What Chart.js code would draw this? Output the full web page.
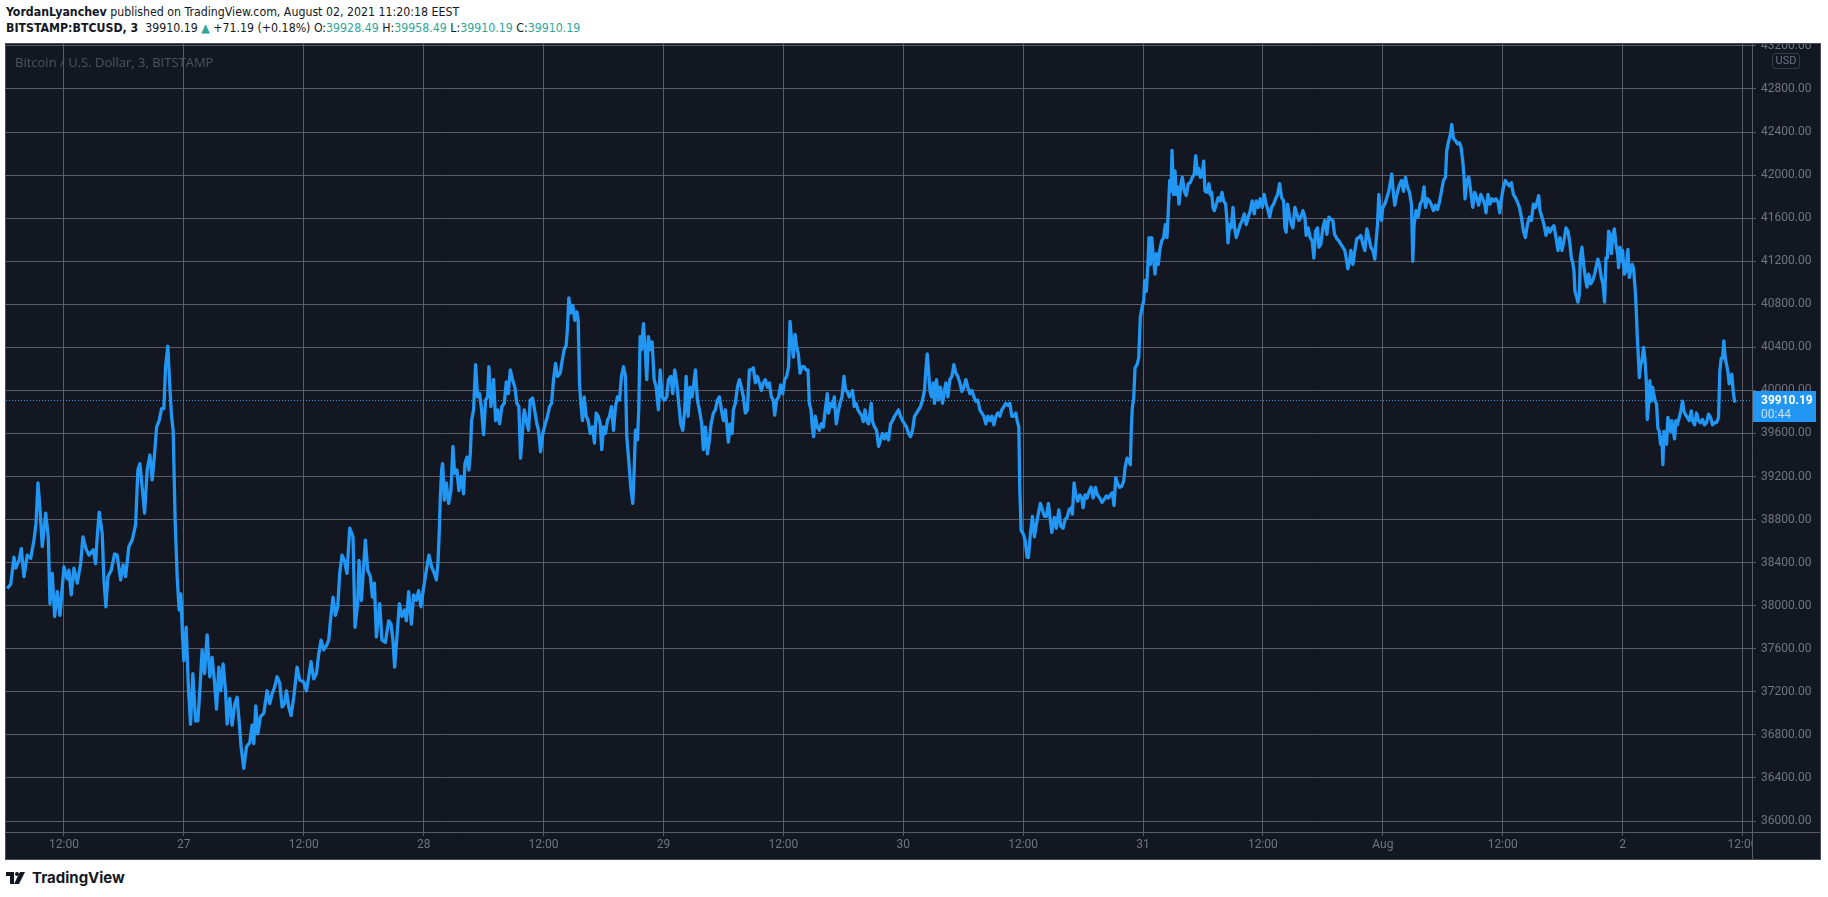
<!DOCTYPE html>
<html>
<head>
<meta charset="utf-8">
<script src="https://cdn.jsdelivr.net/npm/chart.js@4.4.0/dist/chart.umd.min.js"></script>
<style>
  html, body { margin: 0; padding: 0; background: #fff; }
  body { width: 1828px; height: 897px; position: relative; overflow: hidden; color: #131722;
         font-family: "Liberation Sans Narrow", "DejaVu Sans Condensed", Roboto, sans-serif; }
  .hdr { position: absolute; left: 6px; font-size: 12.25px; line-height: 16px; white-space: nowrap; }
  #l1 { top: 4px; }
  #l2 { top: 20px; }
  .up { color: #2fa59a; }
  #panel { position: absolute; left: 5px; top: 43px; width: 1814px; height: 815px;
           border: 1px solid #4b4e58; background: #131722; }
  #panel canvas { display: block; }
  #legend { position: absolute; left: 15px; top: 53px; font: 13px "Open Sans", sans-serif;
            color: #4f535f; white-space: nowrap; pointer-events: none; }
  #usd { position: absolute; left: 1772px; top: 53px; width: 26px; height: 14px; border: 1px solid #363a45;
         border-radius: 3px; font: 11px Roboto, sans-serif; line-height: 14px; text-align: center; color: #6f7380; }
  #logo { position: absolute; left: 6px; top: 868px; display: flex; align-items: center; gap: 6px;
          font: bold 15px Inter, Roboto, sans-serif; color: #131722; }
</style>
</head>
<body>
<div class="hdr" id="l1"><b>YordanLyanchev</b> published on TradingView.com, August 02, 2021 11:20:18 EEST</div>
<div class="hdr" id="l2"><b>BITSTAMP:BTCUSD, 3</b>&nbsp; 39910.19 <span class="up">&#9650;</span> +71.19 (+0.18%) O:<span class="up">39928.49</span> H:<span class="up">39958.49</span> L:<span class="up">39910.19</span> C:<span class="up">39910.19</span></div>

<div id="panel"><canvas id="chart" width="1814" height="815" style="width:1814px;height:815px"></canvas></div>
<div id="legend">Bitcoin / U.S. Dollar, 3, BITSTAMP</div>
<div id="usd">USD</div>
<div id="logo">
  <svg width="20" height="12" viewBox="0 0 20 12"><rect x="0" y="0" width="8" height="4" fill="#131722"/><rect x="4" y="0" width="4" height="12" fill="#131722"/><circle cx="11" cy="2" r="2" fill="#131722"/><polygon points="14,0 19,0 13,12 8,12" fill="#131722"/></svg>
  <span>TradingView</span>
</div>

<script>
// hours counted from 26 Jul 2021 00:00, prices in USD (BTCUSD, Bitstamp, 3 min)
const hours = [
  6.33, 6.67, 7.0, 7.17, 7.5, 7.73, 8.0, 8.33, 8.67, 9.0,
  9.2, 9.4, 9.6, 9.83, 10.17, 10.43, 10.6, 10.83, 11.07, 11.33,
  11.6, 11.83, 12.0, 12.33, 12.5, 12.73, 13.0, 13.33, 13.67, 13.9,
  14.2, 14.5, 14.93, 15.17, 15.33, 15.53, 15.83, 16.0, 16.2, 16.4,
  16.73, 17.07, 17.33, 17.67, 17.93, 18.17, 18.5, 18.83, 19.17, 19.4,
  19.6, 19.83, 20.07, 20.33, 20.6, 20.83, 21.07, 21.27, 21.53, 21.77,
  22.0, 22.17, 22.4, 22.6, 22.77, 22.93, 23.13, 23.33, 23.53, 23.7,
  23.87, 24.0, 24.23, 24.47, 24.67, 24.9, 25.17, 25.4, 25.6, 25.83,
  26.07, 26.33, 26.6, 26.83, 27.07, 27.27, 27.5, 27.7, 27.93, 28.17,
  28.33, 28.6, 28.83, 29.1, 29.33, 29.53, 29.73, 30.0, 30.27, 30.6,
  30.83, 31.0, 31.2, 31.4, 31.67, 32.0, 32.33, 32.6, 32.83, 33.07,
  33.33, 33.6, 33.83, 34.07, 34.27, 34.5, 34.73, 35.0, 35.33, 35.6,
  36.0, 36.27, 36.5, 36.73, 37.0, 37.27, 37.5, 37.73, 38.0, 38.27,
  38.5, 38.67, 38.93, 39.17, 39.4, 39.6, 39.83, 40.07, 40.33, 40.6,
  40.93, 41.13, 41.4, 41.53, 41.77, 42.17, 42.4, 42.67, 42.87, 43.07,
  43.27, 43.6, 43.83, 44.17, 44.5, 44.73, 44.93, 45.1, 45.33, 45.57,
  45.83, 46.1, 46.27, 46.5, 46.77, 47.0, 47.27, 47.5, 47.73, 48.0,
  48.27, 48.53, 48.8, 49.07, 49.27, 49.43, 49.57, 49.67, 49.8, 49.9,
  50.07, 50.27, 50.5, 50.73, 50.93, 51.1, 51.33, 51.53, 51.77, 52.0,
  52.13, 52.33, 52.53, 52.67, 52.8, 53.0, 53.2, 53.4, 53.6, 53.8,
  54.0, 54.2, 54.4, 54.53, 54.73, 55.0, 55.2, 55.4, 55.6, 55.83,
  56.07, 56.27, 56.47, 56.67, 56.9, 57.13, 57.33, 57.53, 57.7, 57.9,
  58.07, 58.27, 58.5, 58.67, 58.9, 59.1, 59.33, 59.5, 59.7, 59.93,
  60.17, 60.4, 60.6, 60.8, 61.0, 61.2, 61.4, 61.67, 61.87, 62.07,
  62.27, 62.4, 62.53, 62.73, 62.93, 63.13, 63.33, 63.47, 63.6, 63.73,
  63.9, 64.07, 64.27, 64.47, 64.67, 64.9, 65.1, 65.27, 65.47, 65.67,
  65.83, 66.0, 66.2, 66.4, 66.6, 66.8, 67.0, 67.2, 67.4, 67.6,
  67.8, 68.0, 68.2, 68.33, 68.53, 68.73, 68.93, 69.07, 69.2, 69.4,
  69.53, 69.67, 69.8, 70.0, 70.17, 70.33, 70.5, 70.67, 70.87, 71.07,
  71.27, 71.5, 71.67, 71.87, 72.07, 72.33, 72.5, 72.73, 72.93, 73.13,
  73.33, 73.53, 73.73, 73.93, 74.13, 74.27, 74.47, 74.67, 74.87, 75.0,
  75.2, 75.4, 75.6,
  75.83, 76.0, 76.2, 76.4, 76.6, 76.77, 77.0, 77.2, 77.4, 77.6,
  77.8, 78.0, 78.2, 78.33, 78.5, 78.67, 78.87, 79.0, 79.2, 79.4,
  79.6, 79.8, 80.0, 80.2, 80.4, 80.6, 80.8, 81.0, 81.2, 81.4,
  81.6, 81.8, 82.0, 82.2, 82.4, 82.6, 82.8, 83.0, 83.13, 83.33,
  83.53, 83.73, 83.93, 84.13, 84.33, 84.53, 84.67, 84.83, 85.0, 85.17,
  85.33, 85.5, 85.67, 85.87, 86.07, 86.27, 86.47, 86.6, 86.77, 86.9,
  87.03, 87.2, 87.4, 87.6, 87.8, 88.0, 88.2, 88.4, 88.53, 88.73,
  88.93, 89.1, 89.3, 89.47, 89.67, 89.87, 90.07, 90.23, 90.4, 90.6,
  90.8, 90.93, 91.1, 91.27, 91.47, 91.67, 91.87, 92.0, 92.17, 92.33,
  92.53, 92.67, 92.8, 92.93, 93.13, 93.33, 93.53, 93.73, 93.93, 94.13,
  94.33, 94.53, 94.73, 94.93, 95.13, 95.33, 95.53, 95.73, 95.93, 96.13,
  96.33, 96.53, 96.73, 96.93, 97.13, 97.33, 97.53, 97.73, 97.93, 98.13,
  98.27, 98.4, 98.53, 98.67, 98.83, 99.0, 99.13, 99.33, 99.53, 99.73,
  99.93, 100.13, 100.27, 100.47, 100.67, 100.87, 101.07, 101.27, 101.47, 101.67,
  101.87, 102.07, 102.27, 102.47, 102.67, 102.87, 103.07, 103.27, 103.47, 103.67,
  103.87, 104.07, 104.27, 104.47, 104.67, 104.87, 105.07, 105.27, 105.47, 105.67,
  105.87, 106.07, 106.27, 106.47, 106.67, 106.87, 107.07, 107.27, 107.4, 107.57,
  107.67, 107.8, 108.0, 108.2, 108.4, 108.53, 108.73, 108.93, 109.13, 109.33,
  109.53, 109.73, 109.93, 110.13, 110.33, 110.53,
  110.87, 111.13, 111.33, 111.57, 111.77, 112.0, 112.2, 112.4, 112.6, 112.8,
  112.93, 113.1, 113.27, 113.47, 113.67, 113.87, 114.0, 114.2, 114.4, 114.6,
  114.8, 115.0, 115.23, 115.43, 115.67, 115.9, 116.13, 116.33, 116.53, 116.73,
  116.93, 117.1, 117.27, 117.47, 117.67, 117.87, 118.07, 118.2, 118.4, 118.6,
  118.73, 118.83, 118.93, 119.07, 119.2, 119.4, 119.57, 119.73, 119.9, 120.07,
  120.17, 120.33, 120.47, 120.6, 120.73, 120.87, 121.0, 121.2, 121.33, 121.53,
  121.67, 121.87, 122.07, 122.23, 122.4, 122.53, 122.67, 122.8, 122.9, 123.07,
  123.2, 123.33, 123.47, 123.6, 123.8, 123.93, 124.13, 124.33, 124.53, 124.73,
  124.93, 125.13, 125.27, 125.47, 125.6, 125.73, 125.9, 126.07, 126.2, 126.4,
  126.6, 126.73, 126.87, 127.0, 127.13, 127.33, 127.53, 127.73, 127.9, 128.07,
  128.27, 128.4, 128.5, 128.67, 128.83, 129.0, 129.17, 129.33, 129.53, 129.73,
  129.93, 130.13, 130.33, 130.53, 130.73, 130.93, 131.13, 131.33, 131.53, 131.73,
  131.93, 132.13, 132.33, 132.53, 132.67, 132.87, 133.07, 133.27, 133.47, 133.67,
  133.87, 134.07, 134.2, 134.33, 134.47, 134.67, 134.87, 135.0, 135.2, 135.4,
  135.6, 135.8, 136.0, 136.2, 136.33, 136.53, 136.73, 136.93, 137.1, 137.27,
  137.47, 137.6, 137.8, 138.0, 138.2, 138.4, 138.6, 138.8, 139.0, 139.17,
  139.4, 139.6, 139.8, 140.0, 140.2, 140.33, 140.5, 140.67, 140.8, 141.0,
  141.2, 141.4, 141.6, 141.8, 142.0, 142.2, 142.4, 142.6, 142.8, 143.0,
  143.2, 143.33, 143.47, 143.6, 143.73, 143.87, 144.0, 144.2, 144.4, 144.6,
  144.73, 144.9, 145.07, 145.2, 145.4, 145.6,
  145.87, 146.07, 146.27, 146.47, 146.67, 146.87, 147.0, 147.13, 147.33, 147.53,
  147.73, 147.93, 148.13, 148.27, 148.47, 148.67, 148.87, 149.07, 149.27, 149.47,
  149.67, 149.87, 150.07, 150.27, 150.4, 150.6, 150.77, 150.9, 151.07, 151.27,
  151.47, 151.67, 151.83, 152.0, 152.13, 152.23, 152.4, 152.6, 152.8, 153.0,
  153.2, 153.4, 153.6, 153.8, 154.0, 154.2, 154.33, 154.53, 154.73, 154.93,
  155.13, 155.33, 155.53, 155.7, 155.87, 156.07, 156.27, 156.47, 156.67, 156.87,
  157.07, 157.27, 157.47, 157.67, 157.87, 158.07, 158.27, 158.47, 158.67, 158.87,
  159.07, 159.27, 159.47, 159.6, 159.73, 159.93, 160.13, 160.33, 160.53, 160.73,
  160.93, 161.13, 161.33, 161.53, 161.73, 161.93, 162.13, 162.33, 162.53, 162.73,
  162.87, 163.0, 163.13, 163.23, 163.37, 163.53, 163.67, 163.77, 163.93, 164.1,
  164.27, 164.43, 164.6, 164.8, 165.0, 165.2, 165.33, 165.53, 165.67, 165.87,
  166.03, 166.2, 166.33, 166.47, 166.6, 166.73, 166.87, 167.0, 167.17, 167.33,
  167.5, 167.6, 167.73, 167.87, 168.0, 168.17, 168.33, 168.53, 168.67, 168.8,
  168.97, 169.1, 169.27, 169.37, 169.47, 169.6, 169.67, 169.8, 169.93, 170.1,
  170.23, 170.37, 170.47, 170.6, 170.73, 170.87, 171.0, 171.13, 171.27, 171.4,
  171.53, 171.67, 171.8, 171.93, 172.03, 172.13, 172.27, 172.4, 172.53, 172.67,
  172.8, 172.93, 173.07, 173.2, 173.33, 173.47, 173.67, 173.83, 174.0, 174.13,
  174.27, 174.47, 174.67, 174.87, 175.0, 175.2, 175.4, 175.6, 175.8, 176.0,
  176.2, 176.4, 176.6, 176.8, 177.0, 177.2, 177.4, 177.6, 177.73, 177.87,
  178.0, 178.13, 178.27, 178.4, 178.53, 178.67, 178.8, 178.93, 179.07, 179.2,
  179.33
];
const prices = [
  38160, 38200, 38450, 38350, 38420, 38530, 38270, 38470, 38440, 38610,
  38760, 39140, 38900, 38550, 38860, 38640, 38020, 38300, 37900, 38130,
  37910, 38170, 38360, 38250, 38330, 38100, 38350, 38210, 38390, 38640,
  38530, 38470, 38520, 38390, 38640, 38870, 38670, 38240, 37990, 38270,
  38330, 38480, 38470, 38240, 38380, 38270, 38550, 38610, 38750, 39260,
  39320, 39100, 38860, 39260, 39400, 39170, 39410, 39660, 39720, 39830,
  39830, 40220, 40410, 40030, 39760, 39630, 38790, 38270, 37960, 38110,
  37710, 37490, 37800, 37210, 36900, 37370, 36930, 36930, 37210, 37590,
  37370, 37730, 37340, 37520, 37290, 37040, 37430, 37210, 37460, 37210,
  36900, 37140, 36890, 37090, 37150, 36930, 36690, 36490, 36690, 36730,
  36890, 36720, 37070, 36810, 36970, 37000, 37210, 37090, 37180, 37240,
  37340, 37280, 37060, 37090, 37210, 37060, 36980, 37150, 37430, 37310,
  37290, 37210, 37340, 37480, 37320, 37370, 37550, 37680, 37590, 37630,
  37680, 37860, 38080, 37910, 37990, 38300, 38470, 38420, 38300, 38720,
  38640, 37800, 38020, 38420, 38050, 38610, 38330, 38270, 38080, 38210,
  37710, 38020, 37680, 37660, 37860, 37830, 37680, 37430, 37710, 38020,
  37900, 37960, 37860, 38130, 37830, 38100, 38050, 38140, 37990, 38170,
  38330, 38470, 38360, 38300, 38240, 38390, 38700, 39010, 39260, 39320,
  38980, 39140, 38950, 39070, 39480, 39230, 39260, 39070, 39200, 39040,
  39320, 39380, 39260, 39410, 39720, 39820, 40240, 39940, 39970, 39820,
  39590, 39910, 39940, 40220, 39850, 40100, 39720, 39820, 39690, 39850,
  39880, 40080, 39970, 40190, 40100, 40030, 39880, 39850, 39370, 39630,
  39820, 39720, 39630, 39910, 39930, 39820, 39690, 39630, 39430, 39600,
  39690, 39760, 39850, 39880, 40100, 40250, 40130, 40160, 40280, 40380,
  40420, 40590, 40860, 40720, 40790, 40650, 40730, 40650, 40070, 39880,
  39720, 39940, 39760, 39720, 39600, 39660, 39510, 39790, 39760, 39690,
  39450, 39660, 39600, 39720, 39760, 39850, 39630, 39850, 39940, 39910,
  40130, 40220, 40130, 39570, 39350, 39100, 38950, 39260, 39630, 39540,
  39820, 40500, 40380, 40620, 40380, 40100, 40500, 40380, 40450, 40100,
  40030, 39820, 40190, 39940, 39910, 39940, 40100, 40130, 39970, 40190,
  40070, 39880, 39690, 39630, 39820, 40130, 39760, 40030, 39940, 40030,
  40190, 39910, 39820,
  39690, 39450, 39660, 39410, 39540, 39690, 39790, 39820, 39910, 39940,
  39820, 39720, 39820, 39690, 39520, 39690, 39600, 39820, 39880, 40030,
  40100, 40030, 39940, 39790, 39820, 40190, 40190, 40210, 40070, 40130,
  40070, 40000, 40070, 40100, 40030, 40070, 39940, 39910, 39770, 39910,
  39940, 40050, 39970, 40100, 40130, 40220, 40640, 40470, 40310, 40520,
  40410, 40340, 40160, 40220, 40220, 40190, 40190, 39880, 39820, 39660,
  39570, 39760, 39660, 39630, 39690, 39660, 39820, 39970, 39790, 39880,
  39850, 39940, 39690, 39790, 39880, 39940, 40130, 40000, 39990, 39940,
  39970, 40000, 39850, 39880, 39820, 39790, 39760, 39710, 39820, 39720,
  39690, 39790, 39880, 39710, 39660, 39630, 39480, 39540, 39600, 39550,
  39600, 39540, 39690, 39720, 39760, 39790, 39820, 39760, 39720, 39690,
  39660, 39600, 39570, 39630, 39760, 39790, 39820, 39850, 39910, 40000,
  40190, 40340, 40190, 40000, 39940, 40070, 39880, 40100, 39910, 40030,
  39880, 40000, 40070, 39940, 40100, 40130, 40240, 40160, 40130, 40070,
  39990, 40030, 40100, 40030, 39970, 40000, 39940, 39900, 39910, 39820,
  39790, 39760, 39690, 39760, 39720, 39760, 39680, 39760, 39790, 39760,
  39820, 39850, 39880, 39860, 39880, 39760, 39760, 39790, 39720, 39660,
  39070, 38700, 38670, 38610, 38450, 38450, 38670, 38830, 38640, 38760,
  38860, 38950, 38890, 38830, 38830, 38950,
  38680, 38820, 38720, 38890, 38740, 38720, 38800, 38820, 38890, 38910,
  38850, 39140, 39030, 38970, 39030, 39000, 38910, 39030, 39000, 39060,
  39100, 39000, 39100, 39030, 39000, 38960, 38990, 39020, 39000, 39030,
  39050, 38930, 39190, 39130, 39100, 39110, 39160, 39280, 39370, 39340,
  39310, 39650, 39840, 39930, 40210, 40240, 40300, 40680, 40770, 40830,
  41020, 40920, 41140, 41420, 41170, 41420, 41270, 41080, 41270, 41170,
  41300, 41390, 41420, 41540, 41420, 41670, 41950, 41850, 42230, 41820,
  42040, 41820, 41890, 41730, 41920, 41980, 41850, 41810, 41920, 41930,
  41980, 42010, 42180, 42010, 42060, 41980, 41990, 42130, 41850, 41840,
  41920, 41820, 41840, 41700, 41670, 41730, 41790, 41760, 41840, 41760,
  41730, 41580, 41370, 41540, 41510, 41700, 41510, 41420, 41480, 41540,
  41580, 41640, 41540, 41610, 41670, 41760, 41640, 41760, 41700, 41780,
  41700, 41820, 41730, 41670, 41610, 41700, 41730, 41780, 41820, 41920,
  41790, 41760, 41510, 41470, 41730, 41610, 41540, 41510, 41700, 41640,
  41580, 41610, 41670, 41610, 41440, 41510, 41420, 41390, 41230, 41480,
  41510, 41330, 41360, 41510, 41580, 41450, 41610, 41590, 41580, 41450,
  41410, 41390, 41360, 41330, 41300, 41230, 41130, 41200, 41300, 41170,
  41300, 41410, 41420, 41440, 41360, 41300, 41500, 41420, 41330, 41300,
  41220, 41390, 41540, 41820, 41670, 41580, 41700, 41730, 41790, 41850,
  41920, 42010, 41820, 41720, 41820, 41890,
  41950, 41850, 41980, 41890, 41840, 41730, 41200, 41540, 41670, 41610,
  41730, 41760, 41890, 41700, 41780, 41760, 41720, 41670, 41720, 41680,
  41750, 41850, 41950, 41980, 42230, 42320, 42380, 42470, 42340, 42320,
  42290, 42300, 42260, 42130, 41980, 41780, 41950, 41980, 41850, 41700,
  41840, 41790, 41720, 41820, 41780, 41730, 41650, 41820, 41730, 41780,
  41760, 41780, 41750, 41650, 41780, 41890, 41950, 41920, 41900, 41930,
  41820, 41790, 41750, 41700, 41610, 41480, 41420, 41540, 41610, 41580,
  41730, 41700, 41760, 41810, 41670, 41610, 41540, 41440, 41510, 41470,
  41510, 41530, 41420, 41300, 41420, 41300, 41390, 41510, 41480, 41360,
  41230, 41190, 41110, 40920, 40880, 40820, 40890, 41230, 41330, 41170,
  41050, 40960, 41080, 40990, 41020, 41080, 41140, 41220, 41170, 41050,
  40990, 40820, 41230, 41230, 41480, 41450, 41270, 41420, 41500, 41360,
  41270, 41140, 41330, 41200, 41300, 41080, 41110, 41310, 41050, 41110,
  41170, 41130, 40920, 40740, 40490, 40270, 40120, 40240, 40270, 40400,
  40300, 40090, 39730, 39870, 40090, 39900, 40030, 39960, 39900, 39870,
  39650, 39620, 39500, 39560, 39310, 39620, 39530, 39500, 39750, 39680,
  39620, 39720, 39620, 39550, 39720, 39680, 39750, 39810, 39900, 39810,
  39780, 39750, 39720, 39810, 39720, 39680, 39790, 39720, 39700, 39730,
  39680, 39700, 39780, 39750, 39680, 39700, 39700, 39750, 40180, 40300,
  40300, 40460, 40300, 40240, 40180, 40060, 40120, 40150, 39990, 39900,
  39910.19
];

// axis ticks
const tickHours = [12, 24, 36, 48, 60, 72, 84, 96, 108, 120, 132, 144, 156, 168, 180];
const tickLabels = ['12:00', '27', '12:00', '28', '12:00', '29', '12:00', '30', '12:00', '31', '12:00', 'Aug', '12:00', '2', '12:00'];
const priceTicks = [36000, 36400, 36800, 37200, 37600, 38000, 38400, 38800, 39200, 39600,
                    40000, 40400, 40800, 41200, 41600, 42000, 42400, 42800, 43200];

const bg = '#131722';
const gridColor = '#5a5d68';
const axisText = '#70747f';
const lineBlue = '#2196f3';

const tvPanel = {
  id: 'tvPanel',
  beforeDraw(chart) {
    const ctx = chart.ctx;
    ctx.save();
    ctx.fillStyle = bg;
    ctx.fillRect(0, 0, chart.width, chart.height);
    ctx.restore();
  },
  beforeDatasetsDraw(chart) {
    // dotted last price line
    const {ctx, chartArea: a, scales: {y}} = chart;
    const py = Math.round(y.getPixelForValue(prices[prices.length - 1])) + 0.5;
    ctx.save();
    ctx.strokeStyle = lineBlue;
    ctx.lineWidth = 1;
    ctx.setLineDash([1, 2]);
    ctx.beginPath();
    ctx.moveTo(a.left, py);
    ctx.lineTo(a.right, py);
    ctx.stroke();
    ctx.restore();
  },
  afterDraw(chart) {
    const {ctx, chartArea: a, scales: {y}} = chart;
    ctx.save();
    // clip time labels under the price scale
    ctx.fillStyle = bg;
    ctx.fillRect(a.right, a.bottom, chart.width - a.right, chart.height - a.bottom);
    // scale separators
    ctx.strokeStyle = gridColor;
    ctx.lineWidth = 1;
    ctx.beginPath();
    ctx.moveTo(a.right + 0.5, 0);
    ctx.lineTo(a.right + 0.5, chart.height);
    ctx.moveTo(0, a.bottom + 0.5);
    ctx.lineTo(chart.width, a.bottom + 0.5);
    ctx.stroke();
    // last price tag
    const last = prices[prices.length - 1];
    const py = Math.round(y.getPixelForValue(last));
    ctx.fillStyle = lineBlue;
    ctx.fillRect(a.right + 1, py - 9, 63, 31);
    ctx.textBaseline = 'middle';
    ctx.textAlign = 'left';
    ctx.fillStyle = '#ffffff';
    ctx.font = 'bold 12px Roboto';
    ctx.fillText(last.toFixed(2), a.right + 9, py + 1);
    ctx.fillStyle = 'rgba(255,255,255,0.72)';
    ctx.font = '12px Roboto';
    ctx.fillText('00:44', a.right + 9, py + 15);
    ctx.restore();
  }
};

new Chart(document.getElementById('chart'), {
  type: 'line',
  data: {
    datasets: [{
      data: hours.map((h, i) => ({x: h, y: prices[i]})),
      borderColor: lineBlue,
      borderWidth: 3.3,
      pointRadius: 0,
      tension: 0,
      borderJoinStyle: 'round',
      clip: 0
    }]
  },
  options: {
    responsive: false,
    animation: false,
    devicePixelRatio: 1,
    layout: { padding: 0, autoPadding: false },
    plugins: { legend: { display: false }, tooltip: { enabled: false } },
    scales: {
      x: {
        type: 'linear',
        min: 6.2,
        max: 180.95,
        afterBuildTicks: s => { s.ticks = tickHours.map(v => ({value: v})); },
        afterFit: s => { s.height = 27; s.paddingLeft = 0; s.paddingRight = 0; },
        grid: { color: gridColor, lineWidth: 1, tickLength: 4 },
        border: { display: false },
        ticks: {
          autoSkip: false, maxRotation: 0, minRotation: 0, padding: 2,
          color: axisText, font: { family: 'Roboto', size: 12 },
          callback: v => tickLabels[tickHours.indexOf(v)]
        }
      },
      y: {
        position: 'right',
        min: 35898,
        max: 43218,
        afterBuildTicks: s => { s.ticks = priceTicks.map(v => ({value: v})); },
        afterFit: s => { s.width = 68; s.paddingTop = 0; s.paddingBottom = 0; },
        grid: { color: gridColor, lineWidth: 1, tickLength: 4 },
        border: { display: false },
        ticks: {
          autoSkip: false, padding: 5,
          color: axisText, font: { family: 'Roboto', size: 12 },
          callback: v => v.toFixed(2)
        }
      }
    }
  },
  plugins: [tvPanel]
});
</script>
</body>
</html>
